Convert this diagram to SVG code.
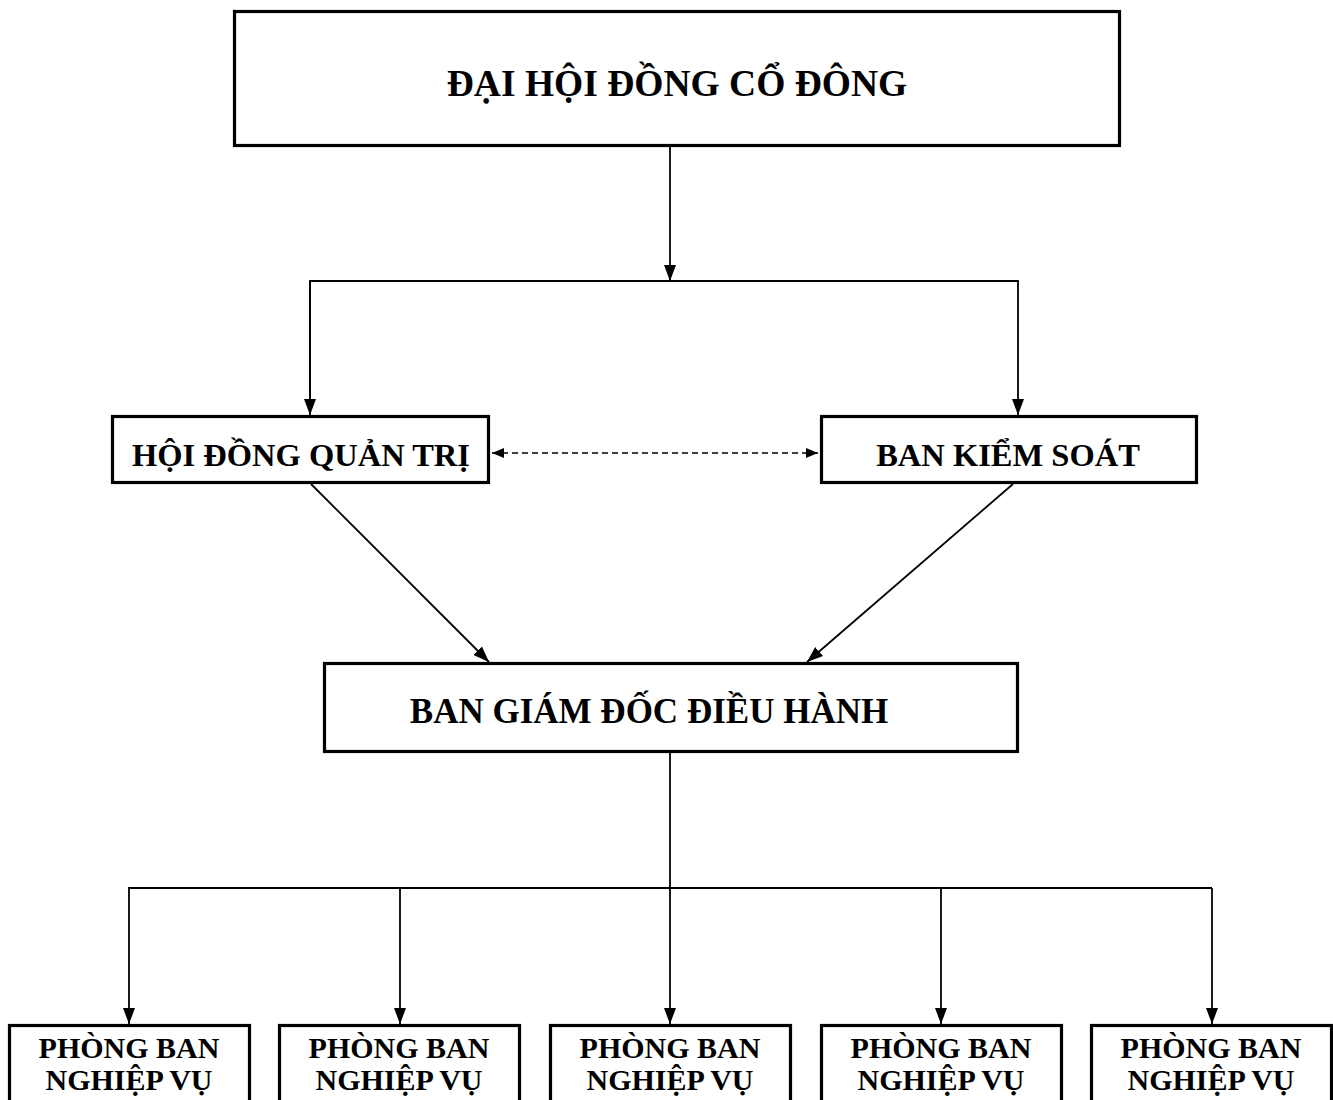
<svg xmlns="http://www.w3.org/2000/svg" width="1333" height="1100" viewBox="0 0 1333 1100">
<style>
.box{fill:#fff;stroke:#000;stroke-width:3.2}
.t{font-family:"Liberation Serif","Times New Roman",serif;font-weight:bold;fill:#000;text-anchor:middle}
.c{fill:none;stroke:#000;stroke-width:1.8}
.d{fill:none;stroke:#000;stroke-width:1.6;stroke-dasharray:6 4}
</style>
<defs>
<marker id="ah" markerUnits="userSpaceOnUse" markerWidth="16" markerHeight="12" refX="16" refY="6" orient="auto">
<path d="M0,0 L16,6 L0,12 z" fill="#000"/>
</marker>
<marker id="ahs" markerUnits="userSpaceOnUse" markerWidth="12" markerHeight="10" refX="12" refY="5" orient="auto-start-reverse">
<path d="M0,0 L12,5 L0,10 z" fill="#000"/>
</marker>
</defs>
<rect width="1333" height="1100" fill="#fff"/>
<g id="connectors">
<line class="c" x1="670" y1="146" x2="670" y2="281" marker-end="url(#ah)"/>
<polyline class="c" points="310,415 310,281 1018,281 1018,415" marker-end="url(#ah)"/>
<line class="c" x1="310" y1="282" x2="310" y2="415" marker-end="url(#ah)"/>
<line class="d" x1="492" y1="453" x2="818" y2="453" marker-start="url(#ahs)" marker-end="url(#ahs)"/>
<line class="c" x1="311" y1="484" x2="489" y2="662" marker-end="url(#ah)"/>
<line class="c" x1="1013" y1="484" x2="807" y2="662" marker-end="url(#ah)"/>
<line class="c" x1="670" y1="753" x2="670" y2="888"/>
<line class="c" x1="128" y1="888" x2="1212" y2="888"/>
<line class="c" x1="129" y1="888" x2="129" y2="1024" marker-end="url(#ah)"/>
<line class="c" x1="400" y1="888" x2="400" y2="1024" marker-end="url(#ah)"/>
<line class="c" x1="670" y1="888" x2="670" y2="1024" marker-end="url(#ah)"/>
<line class="c" x1="941" y1="888" x2="941" y2="1024" marker-end="url(#ah)"/>
<line class="c" x1="1212" y1="888" x2="1212" y2="1024" marker-end="url(#ah)"/>
</g>
<g id="dhdcd">
<rect class="box" x="234.5" y="11.5" width="885" height="134"/>
<text class="t" x="677" y="96" font-size="37.5">ĐẠI HỘI ĐỒNG CỔ ĐÔNG</text>
</g>
<g id="hdqt">
<rect class="box" x="112.5" y="416.5" width="376" height="66"/>
<text class="t" x="301" y="466" font-size="32.5">HỘI ĐỒNG QUẢN TRỊ</text>
</g>
<g id="bks">
<rect class="box" x="821.5" y="416.5" width="375" height="66"/>
<text class="t" x="1008" y="466" font-size="32.5">BAN KIỂM SOÁT</text>
</g>
<g id="bgddh">
<rect class="box" x="324.5" y="663.5" width="693" height="88"/>
<text class="t" x="649" y="723" font-size="35">BAN GIÁM ĐỐC ĐIỀU HÀNH</text>
</g>
<g id="pb1">
<rect class="box" x="9.5" y="1025.5" width="240" height="90"/>
<text class="t" x="129" font-size="30"><tspan x="129" y="1058">PHÒNG BAN</tspan><tspan x="129" y="1090">NGHIỆP VỤ</tspan></text>
</g>
<g id="pb2">
<rect class="box" x="279.5" y="1025.5" width="240" height="90"/>
<text class="t" x="399" font-size="30"><tspan x="399" y="1058">PHÒNG BAN</tspan><tspan x="399" y="1090">NGHIỆP VỤ</tspan></text>
</g>
<g id="pb3">
<rect class="box" x="550.5" y="1025.5" width="240" height="90"/>
<text class="t" x="670" font-size="30"><tspan x="670" y="1058">PHÒNG BAN</tspan><tspan x="670" y="1090">NGHIỆP VỤ</tspan></text>
</g>
<g id="pb4">
<rect class="box" x="821.5" y="1025.5" width="240" height="90"/>
<text class="t" x="941" font-size="30"><tspan x="941" y="1058">PHÒNG BAN</tspan><tspan x="941" y="1090">NGHIỆP VỤ</tspan></text>
</g>
<g id="pb5">
<rect class="box" x="1091.5" y="1025.5" width="240" height="90"/>
<text class="t" x="1211" font-size="30"><tspan x="1211" y="1058">PHÒNG BAN</tspan><tspan x="1211" y="1090">NGHIỆP VỤ</tspan></text>
</g>
</svg>
